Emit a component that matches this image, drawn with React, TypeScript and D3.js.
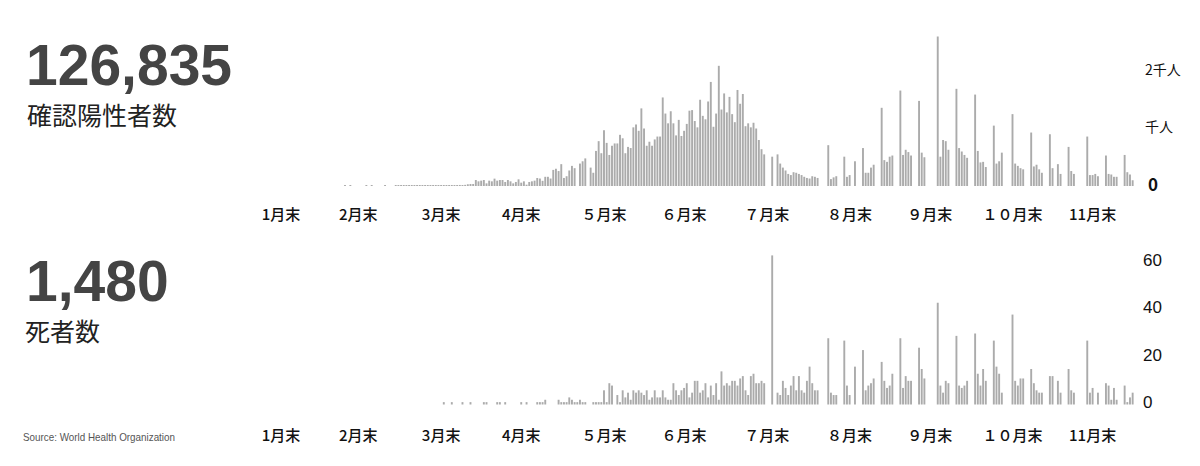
import React from 'react';
import * as d3 from 'd3';

// daily values, starting 2020-02-24 (one entry per day, 0 = no report)
const startDate = new Date(2020, 1, 24);

const casesFeb = [2, 0, 2, 0, 0, 0];
const casesMar = [0, 0, 2, 0, 2, 0, 0, 0, 0, 2, 0, 0, 0, 3, 2, 4, 3, 5, 2, 7, 4, 3, 8, 5, 10, 12, 9, 13, 15, 11, 14];
const casesApr = [10, 12, 8, 14, 16, 14, 18, 12, 20, 30, 35, 35, 104, 81, 93, 104, 46, 93, 81, 128, 93, 104, 104, 70, 104, 81, 46, 70, 116, 58];
const casesMay = [81, 23, 70, 81, 93, 139, 130, 90, 160, 160, 130, 280, 300, 260, 380, 140, 170, 270, 350, 310, 0, 390, 430, 480, 0, 320, 230, 610, 780, 570, 970];
const casesJun = [750, 540, 700, 740, 740, 890, 830, 570, 680, 660, 1020, 1070, 960, 1350, 1000, 700, 770, 700, 810, 860, 860, 1540, 1260, 1090, 1300, 1090, 880, 1150, 870, 960];
const casesJul = [1080, 1310, 1320, 1130, 1020, 1500, 1220, 1160, 1470, 1810, 1030, 1260, 2090, 1330, 1610, 1280, 1550, 1250, 1110, 1670, 1430, 1600, 1040, 1090, 1020, 1100, 1000, 800, 640, 550, 0];
const casesAug = [0, 510, 0, 550, 390, 320, 270, 210, 190, 240, 230, 210, 190, 160, 140, 130, 170, 160, 140, 0, 0, 0, 710, 120, 150, 170, 0, 0, 510, 160, 190];
const casesSep = [0, 430, 0, 0, 660, 230, 230, 320, 370, 0, 0, 1360, 450, 420, 510, 530, 0, 0, 1660, 540, 630, 590, 530, 0, 0, 1480, 580, 500, 0, 0];
const casesOct = [0, 0, 2600, 510, 800, 780, 630, 0, 0, 1690, 660, 600, 540, 490, 0, 0, 1590, 610, 410, 420, 330, 0, 0, 1050, 390, 430, 580, 0, 0, 0, 1250];
const casesNov = [390, 350, 310, 290, 0, 0, 930, 340, 370, 290, 230, 0, 0, 900, 310, 0, 380, 210, 0, 0, 680, 260, 210, 0, 0, 0, 0, 860, 190, 190];
const casesDec = [210, 170, 0, 0, 530, 210, 200, 160, 160, 0, 0, 540, 240, 200, 100];

const deathsFeb = [0, 0, 0, 0, 0, 0];
const deathsMar = Array.from({ length: 31 }, () => 0);
const deathsApr = [1, 0, 0, 1, 0, 0, 0, 1, 0, 0, 1, 0, 0, 0, 0, 1, 1, 0, 0, 0, 1, 1, 0, 1, 0, 0, 0, 0, 0, 1];
const deathsMay = [0, 1, 0, 0, 0, 1, 1, 1, 2, 0, 0, 0, 0, 2, 1, 1, 1, 3, 2, 1, 1, 2, 1, 1, 0, 0, 1, 1, 1, 1, 6];
const deathsJun = [1, 9, 8, 0, 4, 1, 6, 3, 5, 2, 6, 5, 6, 5, 4, 6, 2, 3, 6, 3, 3, 6, 3, 2, 2, 9, 6, 4, 6, 7];
const deathsJul = [9, 3, 5, 10, 10, 5, 6, 9, 3, 8, 4, 9, 2, 14, 8, 9, 8, 10, 10, 8, 11, 12, 6, 4, 12, 13, 9, 9, 10, 9, 0];
const deathsAug = [0, 63, 0, 5, 4, 10, 7, 4, 8, 12, 6, 12, 6, 5, 10, 16, 9, 6, 6, 0, 0, 0, 28, 5, 4, 4, 0, 0, 27, 8, 4];
const deathsSep = [0, 16, 0, 0, 23, 6, 8, 9, 11, 0, 0, 18, 10, 7, 8, 13, 0, 0, 28, 7, 12, 10, 10, 0, 0, 24, 15, 11, 0, 0];
const deathsOct = [0, 0, 43, 8, 5, 10, 9, 0, 0, 29, 8, 7, 8, 10, 0, 0, 30, 13, 8, 15, 10, 0, 0, 27, 16, 13, 5, 0, 0, 0, 38];
const deathsNov = [10, 8, 11, 11, 0, 0, 15, 9, 6, 5, 5, 0, 0, 12, 12, 0, 10, 5, 0, 0, 15, 6, 5, 0, 0, 0, 0, 27, 5, 7];
const deathsDec = [0, 5, 0, 0, 9, 8, 2, 7, 2, 0, 0, 8, 1, 3, 5];

const monthLabels = ['1月末', '2月末', '3月末', '4月末', '５月末', '６月末', '７月末', '８月末', '９月末', '１０月末', '11月末'];
const topTickValues = [0, 1000, 2000];
const topTickLabels = ['0', '千人', '2千人'];
const bottomTickValues = [0, 20, 40, 60];

const cases = [...casesFeb, ...casesMar, ...casesApr, ...casesMay, ...casesJun, ...casesJul, ...casesAug, ...casesSep, ...casesOct, ...casesNov, ...casesDec];
const deaths = [...deathsFeb, ...deathsMar, ...deathsApr, ...deathsMay, ...deathsJun, ...deathsJul, ...deathsAug, ...deathsSep, ...deathsOct, ...deathsNov, ...deathsDec];

const W = 1200;
const H = 466;
const BAR_COLOR = '#ababab';
const JP = "'Noto Sans CJK JP', 'Noto Sans', sans-serif";
const NARROW = "'Liberation Sans Narrow', 'Arial Narrow', 'Liberation Sans', sans-serif";

const dayPx = 2.67;
const lastDay = d3.timeDay.offset(startDate, cases.length - 1);
const x = d3.scaleTime()
  .domain([startDate, lastDay])
  .range([345, 345 + (cases.length - 1) * dayPx]);

const yTop = d3.scaleLinear().domain([0, 2000]).range([186, 71]);
const yBottom = d3.scaleLinear().domain([0, 60]).range([404.5, 262.5]);

const monthEnds = monthLabels.map((_, m) => new Date(2020, m + 1, 0));

const Bars: React.FC<{ values: number[]; y: d3.ScaleLinear<number, number> }> = ({ values, y }) => (
  <g fill={BAR_COLOR}>
    {values.map((v, i) => {
      if (!v) return null;
      const cx = x(d3.timeDay.offset(startDate, i));
      // tiny counts still leave a visible stub, as in the original
      const h = Math.max(1, y(0) - y(v));
      return <rect key={i} x={cx - 0.95} width={1.9} y={y(0) - h} height={h} />;
    })}
  </g>
);

const MonthRow: React.FC<{ cy: number }> = ({ cy }) => (
  <g fontFamily={JP} fontSize={15} fontWeight={500} fill="#111" textAnchor="middle">
    {monthLabels.map((label, i) => (
      <text key={label} x={x(monthEnds[i])} y={cy} dominantBaseline="middle">{label}</text>
    ))}
  </g>
);

export default function App() {
  return (
    <div style={{ position: 'absolute', left: 0, top: 0, width: W, height: H, background: '#fff' }}>
      <svg width={W} height={H} viewBox={`0 0 ${W} ${H}`}>
        <rect width={W} height={H} fill="#fff" />

        {/* headline numbers */}
        <text x={26} y={85} fontFamily="'Liberation Sans', Arial, sans-serif" fontWeight={700} fontSize={57} fill="#444">126,835</text>
        <text x={27} y={125} fontFamily={JP} fontSize={25} fill="#222">確認陽性者数</text>
        <text x={26} y={301} fontFamily="'Liberation Sans', Arial, sans-serif" fontWeight={700} fontSize={57} fill="#444">1,480</text>
        <text x={25} y={341} fontFamily={JP} fontSize={25} fill="#222">死者数</text>
        <text x={23} y={441} fontFamily={NARROW} fontSize={11} fill="#555" textLength={152} lengthAdjust="spacingAndGlyphs">Source: World Health Organization</text>

        {/* confirmed cases */}
        <Bars values={cases} y={yTop} />
        <g fontFamily={JP} fontSize={14} fill="#111">
          {topTickValues.map((v, i) => (
            <text key={v} x={v === 0 ? 1148 : 1145} y={yTop(v)} dominantBaseline="middle"
              fontWeight={v === 0 ? 700 : 400} fontSize={v === 0 ? 17 : 14}>{topTickLabels[i]}</text>
          ))}
        </g>
        <MonthRow cy={216} />

        {/* deaths */}
        <Bars values={deaths} y={yBottom} />
        <g fontFamily={NARROW} fontSize={17} fill="#111">
          {bottomTickValues.map(v => (
            <text key={v} x={1143} y={yBottom(v) - 1} dominantBaseline="middle">{v}</text>
          ))}
        </g>
        <MonthRow cy={437} />
      </svg>
    </div>
  );
}
